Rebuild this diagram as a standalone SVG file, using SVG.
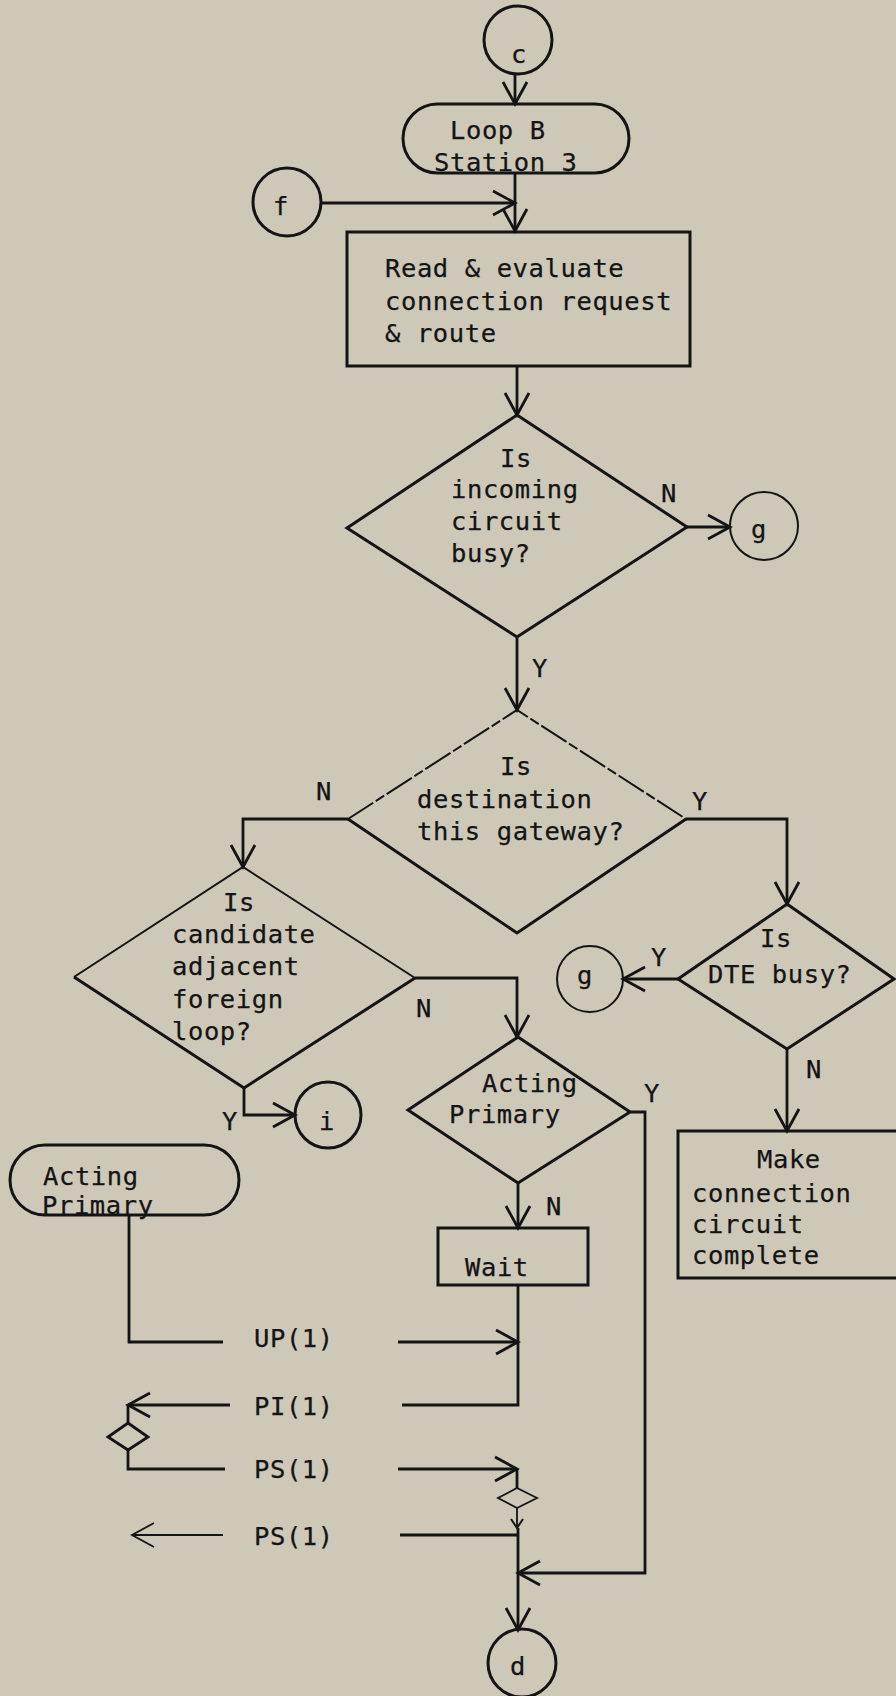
<svg xmlns="http://www.w3.org/2000/svg" width="896" height="1696" viewBox="0 0 896 1696">
  <style>
    .shape { fill: none; stroke: #141414; stroke-width: 3; stroke-linejoin: miter; }
    .thin { fill: none; stroke: #141414; stroke-width: 2; }
    .wire { fill: none; stroke: #141414; stroke-width: 2.8; }
    .wire-thin { fill: none; stroke: #141414; stroke-width: 1.8; }
    text { font-family: "DejaVu Sans Mono", "Liberation Mono", monospace; font-size: 25.5px; letter-spacing: 0.6px; fill: #141414; stroke: #141414; stroke-width: 0.25px; }
  </style>
  <defs>
    <marker id="arrow" viewBox="-26 -15 30 30" markerWidth="30" markerHeight="30" refX="0" refY="0" orient="auto" markerUnits="userSpaceOnUse">
      <path d="M-22,-12 L0,0 L-22,12" fill="none" stroke="#141414" stroke-width="2.8"/>
    </marker>
    <marker id="arrow-small" viewBox="-12 -8 14 16" markerWidth="14" markerHeight="16" refX="0" refY="0" orient="auto" markerUnits="userSpaceOnUse">
      <path d="M-9,-6 L0,0 L-9,6" fill="none" stroke="#141414" stroke-width="2"/>
    </marker>
    <marker id="arrow-light" viewBox="-26 -15 30 30" markerWidth="30" markerHeight="30" refX="0" refY="0" orient="auto" markerUnits="userSpaceOnUse">
      <path d="M-22,-12 L0,0 L-22,12" fill="none" stroke="#141414" stroke-width="1.8"/>
    </marker>
  </defs>

  <rect width="896" height="1696" fill="#cdc8b8"/>

  <!-- connectors -->
  <g id="connectors">
    <line class="wire" x1="515" y1="74" x2="515" y2="104" marker-end="url(#arrow)"/>
    <line class="wire" x1="515" y1="173" x2="515" y2="231" marker-end="url(#arrow)"/>
    <line class="wire" x1="321" y1="203" x2="515" y2="203" marker-end="url(#arrow)"/>
    <line class="wire" x1="517" y1="367" x2="517" y2="415" marker-end="url(#arrow)"/>
    <line class="wire" x1="687" y1="527" x2="730" y2="527" marker-end="url(#arrow)"/>
    <line class="wire" x1="517" y1="637" x2="517" y2="710" marker-end="url(#arrow)"/>
    <polyline class="wire" points="348,819 243,819 243,867" marker-end="url(#arrow)"/>
    <polyline class="wire" points="686,819 787,819 787,904" marker-end="url(#arrow)"/>
    <polyline class="wire" points="415,978 517,978 517,1037" marker-end="url(#arrow)"/>
    <polyline class="wire" points="244,1088 244,1115 295,1115" marker-end="url(#arrow)"/>
    <line class="wire" x1="678" y1="979" x2="623" y2="979" marker-end="url(#arrow)"/>
    <line class="wire" x1="787" y1="1049" x2="787" y2="1131" marker-end="url(#arrow)"/>
    <line class="wire" x1="518" y1="1183" x2="518" y2="1228" marker-end="url(#arrow)"/>
    <polyline class="wire" points="630,1112 645,1112 645,1573 518,1573" marker-end="url(#arrow)"/>
    <polyline class="wire" points="518,1285 518,1405 402,1405"/>
    <!-- UP(1) -->
    <polyline class="wire" points="129,1216 129,1342 223,1342"/>
    <line class="wire" x1="398" y1="1342" x2="518" y2="1342" marker-end="url(#arrow)"/>
    <!-- PI(1) -->
    <line class="wire" x1="230" y1="1405" x2="128" y2="1405" marker-end="url(#arrow)"/>
    <line class="wire" x1="128" y1="1405" x2="128" y2="1423"/>
    <polygon class="wire" points="128,1423 148,1437 128,1450 108,1437"/>
    <polyline class="wire" points="128,1450 128,1469 225,1469"/>
    <!-- PS(1) inbound -->
    <line class="wire" x1="398" y1="1469" x2="517" y2="1469" marker-end="url(#arrow)"/>
    <line class="wire" x1="517" y1="1469" x2="517" y2="1488"/>
    <polygon class="wire-thin" points="517,1488 537,1498 517,1508 498,1498"/>
    <line class="wire-thin" x1="517" y1="1508" x2="517" y2="1528" marker-end="url(#arrow-small)"/>
    <!-- PS(1) outbound -->
    <line class="wire-thin" x1="223" y1="1535" x2="132" y2="1535" marker-end="url(#arrow-light)"/>
    <line class="wire" x1="400" y1="1535" x2="518" y2="1535"/>
    <line class="wire" x1="518" y1="1528" x2="518" y2="1630" marker-end="url(#arrow)"/>
  </g>

  <!-- connector circles -->
  <g id="conn-c">
    <circle class="shape" cx="518" cy="40" r="34"/>
    <text x="511" y="63">c</text>
  </g>
  <g id="conn-f">
    <circle class="shape" cx="287" cy="202" r="34"/>
    <text x="273" y="215">f</text>
  </g>
  <g id="conn-g1">
    <circle class="thin" cx="764" cy="526" r="34"/>
    <text x="751" y="538">g</text>
  </g>
  <g id="conn-g2">
    <circle class="thin" cx="590" cy="979" r="33"/>
    <text x="577" y="984">g</text>
  </g>
  <g id="conn-i">
    <circle class="shape" cx="328" cy="1115" r="33"/>
    <text x="319" y="1130">i</text>
  </g>
  <g id="conn-d">
    <circle class="shape" cx="522" cy="1663" r="34"/>
    <text x="510" y="1675">d</text>
  </g>

  <!-- Loop B station 3 terminal -->
  <g id="loop-b">
    <rect class="shape" x="403" y="104" width="226" height="69" rx="34.5" ry="34.5"/>
    <text x="450" y="139">Loop B</text>
    <text x="434" y="171">Station 3</text>
  </g>

  <!-- read & evaluate process -->
  <g id="read-evaluate">
    <rect class="shape" x="347" y="232" width="343" height="134"/>
    <text x="385" y="277">Read &amp; evaluate</text>
    <text x="385" y="310">connection request</text>
    <text x="385" y="342">&amp; route</text>
  </g>

  <!-- decision: incoming circuit busy -->
  <g id="incoming-busy">
    <polygon class="shape" points="517,415 687,527 517,637 347,528"/>
    <text x="500" y="467">Is</text>
    <text x="451" y="498">incoming</text>
    <text x="451" y="530">circuit</text>
    <text x="451" y="562">busy?</text>
    <text x="661" y="502">N</text>
    <text x="532" y="677">Y</text>
  </g>

  <!-- decision: destination this gateway -->
  <g id="destination-gateway">
    <polyline class="thin" points="348,819 517,710 686,819" stroke-dasharray="30 3 10 3"/>
    <polyline class="shape" points="686,819 517,933 348,819"/>
    <text x="500" y="775">Is</text>
    <text x="417" y="808">destination</text>
    <text x="417" y="840">this gateway?</text>
    <text x="316" y="800">N</text>
    <text x="692" y="810">Y</text>
  </g>

  <!-- decision: candidate adjacent foreign loop -->
  <g id="candidate-foreign">
    <polyline class="thin" points="74,977 243,867 415,978"/>
    <polyline class="shape" points="415,978 244,1088 74,977"/>
    <text x="223" y="911">Is</text>
    <text x="172" y="943">candidate</text>
    <text x="172" y="975">adjacent</text>
    <text x="172" y="1008">foreign</text>
    <text x="172" y="1040">loop?</text>
    <text x="416" y="1017">N</text>
    <text x="222" y="1130">Y</text>
  </g>

  <!-- decision: DTE busy -->
  <g id="dte-busy">
    <polygon class="shape" points="787,904 894,979 787,1049 678,979"/>
    <text x="760" y="947">Is</text>
    <text x="708" y="983">DTE busy?</text>
    <text x="651" y="966">Y</text>
    <text x="806" y="1078">N</text>
  </g>

  <!-- make connection process -->
  <g id="make-connection">
    <rect class="shape" x="678" y="1131" width="240" height="147"/>
    <text x="757" y="1168">Make</text>
    <text x="692" y="1202">connection</text>
    <text x="692" y="1233">circuit</text>
    <text x="692" y="1264">complete</text>
  </g>

  <!-- decision: acting primary -->
  <g id="acting-primary-check">
    <polygon class="shape" points="518,1037 630,1112 518,1183 408,1110"/>
    <text x="482" y="1092">Acting</text>
    <text x="449" y="1123">Primary</text>
    <text x="644" y="1102">Y</text>
    <text x="546" y="1215">N</text>
  </g>

  <!-- wait process -->
  <g id="wait">
    <rect class="shape" x="438" y="1228" width="150" height="57"/>
    <text x="465" y="1276">Wait</text>
  </g>

  <!-- acting primary terminal -->
  <g id="acting-primary-terminal">
    <rect class="shape" x="10" y="1145" width="229" height="70" rx="35" ry="35"/>
    <text x="43" y="1185">Acting</text>
    <text x="42" y="1214">Primary</text>
  </g>

  <!-- message labels -->
  <g id="messages">
    <text x="254" y="1347">UP(1)</text>
    <text x="254" y="1415">PI(1)</text>
    <text x="254" y="1478">PS(1)</text>
    <text x="254" y="1545">PS(1)</text>
  </g>
</svg>
